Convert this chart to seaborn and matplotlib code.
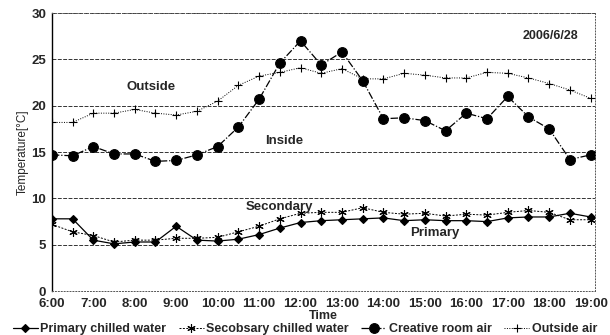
import numpy as np
import pandas as pd
import matplotlib
matplotlib.use('Agg')
import matplotlib.pyplot as plt
import seaborn as sns

# half-hourly readings, 6:00 to 19:00
hours = [6 + 0.5 * n for n in range(27)]
primary = [7.8, 7.8, 5.5, 5.1, 5.3, 5.3, 7.0, 5.5, 5.4, 5.6, 6.1, 6.8, 7.4,
           7.6, 7.7, 7.8, 7.9, 7.6, 7.7, 7.6, 7.6, 7.5, 7.9, 8.0, 8.0, 8.4, 8.0]
secondary = [7.2, 6.4, 6.0, 5.3, 5.5, 5.5, 5.7, 5.7, 5.8, 6.4, 7.0, 7.8, 8.4,
             8.5, 8.5, 9.0, 8.5, 8.3, 8.4, 8.1, 8.3, 8.2, 8.5, 8.7, 8.5, 7.7, 7.7]
inside = [14.7, 14.6, 15.6, 14.8, 14.8, 14.0, 14.1, 14.7, 15.6, 17.7, 20.7, 24.6, 27.0,
          24.4, 25.8, 22.7, 18.6, 18.7, 18.4, 17.3, 19.2, 18.6, 21.0, 18.8, 17.5, 14.2, 14.7]
outside = [18.2, 18.2, 19.2, 19.2, 19.6, 19.2, 19.0, 19.4, 20.5, 22.2, 23.2, 23.6, 24.1,
           23.5, 24.0, 22.9, 22.9, 23.5, 23.3, 23.0, 23.0, 23.6, 23.5, 23.0, 22.4, 21.7, 20.8]
series_names = ['Primary chilled water', 'Secobsary chilled water',
                'Creative room air', 'Outside air']
tick_hours = list(range(6, 20))
tick_labels = ['{h}:00'.format(h=h) for h in tick_hours]

df = pd.DataFrame({'time': hours * 4,
                   'temp': primary + secondary + inside + outside,
                   'series': np.repeat(series_names, len(hours))})

sns.set_style('white')
plt.rcParams['font.family'] = ['Liberation Sans', 'DejaVu Sans']
plt.rcParams['font.weight'] = 'bold'

fig = plt.figure(figsize=(6.1, 3.35), dpi=100)
ax = fig.add_axes([0.085, 0.131, 0.89, 0.83])

styles = {
    'Primary chilled water': dict(marker='D', markersize=4, linestyle='-', linewidth=0.9),
    'Secobsary chilled water': dict(marker=(6, 2, 0), markersize=6, linestyle=(0, (2, 1.5)), linewidth=0.7),
    'Creative room air': dict(marker='o', markersize=7, linestyle=(0, (6, 1.5, 1, 1.5)), linewidth=0.9),
    'Outside air': dict(marker='+', markersize=6, linestyle=(0, (1, 1.5)), linewidth=0.7),
}
for name in series_names:
    sub = df[df['series'] == name]
    sns.lineplot(data=sub, x='time', y='temp', ax=ax, color='black',
                 label=name, markeredgewidth=0.8, markeredgecolor='black',
                 markerfacecolor='black', **styles[name])

ax.set_xlim(6, 19.1)
ax.set_ylim(0, 30)
ax.set_xticks(tick_hours)
ax.set_xticklabels(tick_labels)
ax.set_yticks(range(0, 31, 5))
for y in range(5, 31, 5):
    ax.axhline(y, color='#333333', linewidth=0.7, linestyle=(0, (4, 1.5)), zorder=0)
ax.tick_params(axis='both', length=0, labelsize=9.5, pad=4)
ax.tick_params(axis='x', pad=5)
for lab in ax.get_xticklabels() + ax.get_yticklabels():
    lab.set_fontweight('bold')

for side in ['top', 'right', 'bottom']:
    ax.spines[side].set_linestyle((0, (1, 2)))
    ax.spines[side].set_linewidth(0.7)
    ax.spines[side].set_color('#555555')
ax.spines['left'].set_color('black')
ax.spines['left'].set_linewidth(1.0)

ax.set_xlabel('Time', fontsize=9, fontweight='bold', labelpad=0)
ax.set_ylabel('Temperature[°C]', fontsize=8.5, fontweight='normal', labelpad=2)

ax.text(8.4, 21.7, 'Outside', fontsize=9.5, fontweight='bold', ha='center')
ax.text(11.6, 15.9, 'Inside', fontsize=9.5, fontweight='bold', ha='center')
ax.text(11.5, 8.8, 'Secondary', fontsize=9.5, fontweight='bold', ha='center')
ax.text(15.25, 6.0, 'Primary', fontsize=9.5, fontweight='bold', ha='center')
ax.text(18.7, 27.2, '2006/6/28', fontsize=9, fontweight='bold', ha='right')

ax.legend_.remove()
handles, labels = ax.get_legend_handles_labels()
fig.legend(handles, labels, loc='lower center', bbox_to_anchor=(0.5, 0.0), ncol=4,
           frameon=False, handlelength=2.0, handletextpad=0.2, columnspacing=1.0,
           borderaxespad=0, borderpad=0, prop={'weight': 'bold', 'size': 9})

plt.savefig('out.png', dpi=100)
